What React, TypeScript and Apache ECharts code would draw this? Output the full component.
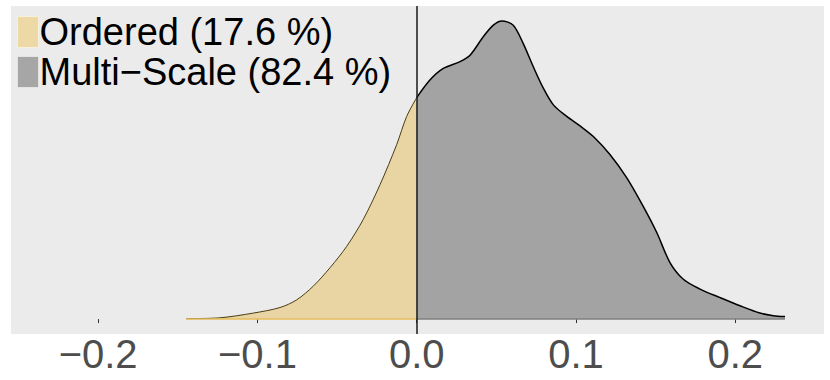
import React, { useEffect, useRef } from "react";
import * as echarts from "echarts";

// Density estimate, negative part (Ordered)
const orderedX = [-0.1448, -0.1235, -0.1026, -0.0858, -0.0753, -0.0649, -0.0544, -0.0439, -0.0335, -0.023, -0.0126, -0.0063, 0];
const orderedY = [0.01, 0.03, 0.14, 0.27, 0.45, 0.77, 1.2, 1.7, 2.33, 3.14, 4.07, 4.73, 5.17];

// Density estimate, positive part (Multi-Scale)
const multiX = [0, 0.0083, 0.0167, 0.0272, 0.0335, 0.0418, 0.0481, 0.0534, 0.0606, 0.0669, 0.0732, 0.0795, 0.0858, 0.0942, 0.1025, 0.1109, 0.1213, 0.1318, 0.1422, 0.1507, 0.159, 0.1674, 0.1779, 0.1905, 0.203, 0.2155, 0.2239, 0.2312];
const multiY = [5.17, 5.58, 5.85, 6.01, 6.16, 6.59, 6.86, 6.96, 6.86, 6.43, 5.89, 5.39, 5.0, 4.73, 4.51, 4.26, 3.84, 3.3, 2.63, 2.02, 1.32, 0.93, 0.7, 0.5, 0.31, 0.14, 0.08, 0.06];

const tickValues = [-0.2, -0.1, 0, 0.1, 0.2];
const legendNames = ["Ordered (17.6 %)", "Multi\u2212Scale (82.4 %)"];

const FONT = "'Liberation Sans', Arial, Helvetica, sans-serif";

export default function App() {
  const ref = useRef<HTMLDivElement>(null);
  useEffect(() => {
    if (!ref.current) return;
    const chart = echarts.init(ref.current, null, { renderer: "svg" });
    const ordered = orderedX.map((x, i) => [x, orderedY[i]]);
    const multi = multiX.map((x, i) => [x, multiY[i]]);
    const peak = Math.max(...multiY, ...orderedY);
    chart.setOption({
      animation: false,
      textStyle: { fontFamily: FONT },
      grid: {
        left: 11,
        right: 6,
        top: 6,
        bottom: 46,
        show: true,
        backgroundColor: "#EBEBEB",
        borderWidth: 0,
      },
      legend: {
        orient: "vertical",
        left: 17,
        top: 13,
        itemWidth: 21,
        itemHeight: 31,
        itemGap: 2,
        padding: 0,
        data: [
          { name: legendNames[0], icon: "rect", itemStyle: { color: "#EDD9A6", borderColor: "#F6F0E0", borderWidth: 1 } },
          { name: legendNames[1], icon: "rect", itemStyle: { color: "#A6A6A6", borderColor: "#E4E4E4", borderWidth: 1 } },
        ],
        textStyle: { fontSize: 38, lineHeight: 31, color: "#000", fontFamily: FONT, padding: [0, 0, 0, -4] },
      },
      xAxis: {
        type: "value",
        min: -0.2547,
        max: 0.2557,
        axisLine: { show: false },
        splitLine: { show: false },
        axisTick: {
          show: true,
          customValues: tickValues,
          length: 4,
          lineStyle: { color: "#333333", width: 1 },
        },
        axisLabel: {
          customValues: tickValues,
          fontSize: 40,
          color: "#4D4D4D",
          fontFamily: FONT,
          margin: 0,
          formatter: (v: number) => v.toFixed(1).replace("-", "\u2212"),
        },
      },
      yAxis: {
        type: "value",
        min: -0.05 * peak,
        max: 1.05 * peak,
        show: false,
      },
      series: [
        {
          name: legendNames[0],
          type: "line",
          data: ordered,
          smooth: 0.3,
          showSymbol: false,
          lineStyle: { color: "#4A3C12", width: 1 },
          areaStyle: { color: "#E9D5A3", opacity: 1 },
          z: 2,
        },
        {
          name: legendNames[1],
          type: "line",
          data: multi,
          smooth: 0.3,
          showSymbol: false,
          lineStyle: { color: "#000000", width: 1.5 },
          areaStyle: { color: "#A3A3A3", opacity: 1 },
          z: 2,
        },
        {
          name: "baseline-ordered",
          type: "line",
          data: [[orderedX[0], 0], [orderedX[orderedX.length - 1], 0]],
          showSymbol: false,
          lineStyle: { color: "#E8BE5C", width: 1.5 },
          z: 3,
        },
        {
          name: "baseline-multi",
          type: "line",
          data: [[multiX[0], 0], [multiX[multiX.length - 1], 0]],
          showSymbol: false,
          lineStyle: { color: "#7F7F7F", width: 1.5 },
          z: 3,
          markLine: {
            silent: true,
            symbol: "none",
            label: { show: false },
            lineStyle: { color: "#1A1A1A", width: 1.5, type: "solid" },
            data: [{ xAxis: 0 }],
          },
        },
      ],
    });
    return () => chart.dispose();
  }, []);
  return (
    <div
      ref={ref}
      style={{ position: "absolute", left: 0, top: 0, width: 830, height: 380 }}
    />
  );
}
